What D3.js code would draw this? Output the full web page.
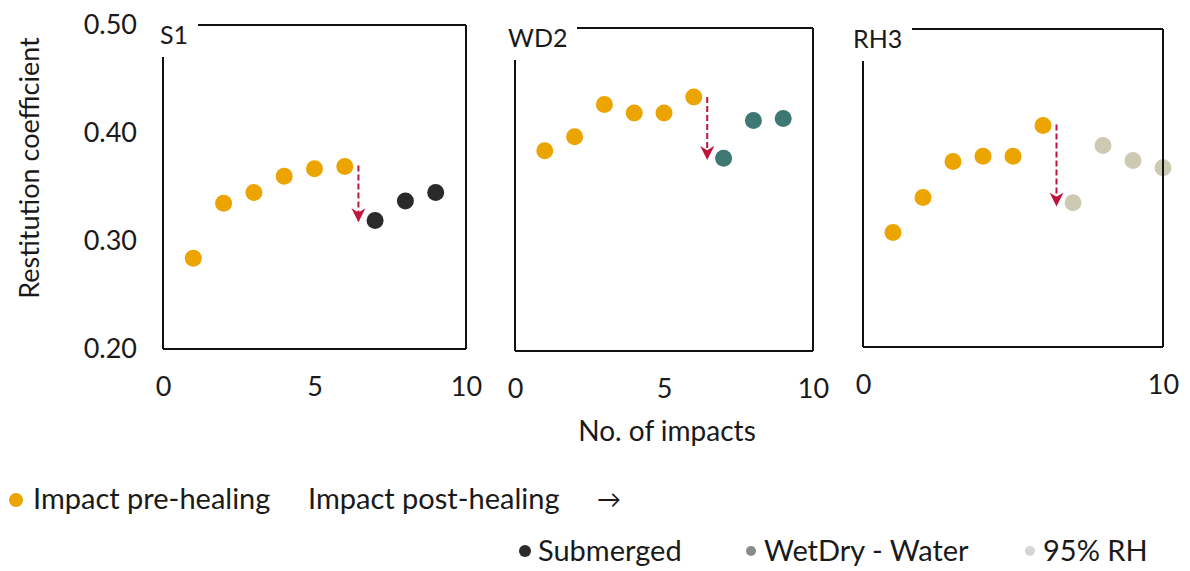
<!DOCTYPE html>
<html><head><meta charset="utf-8">
<script src="https://cdn.jsdelivr.net/npm/d3@7/dist/d3.min.js"></script>
<style>body{margin:0;background:#fff;} text{font-family:Lato,sans-serif;fill:#1a1a1a;}</style>
</head><body>
<svg id="c" width="1190" height="571"></svg>
<script>
// ---- data ----
const panelNames = ["S1", "WD2", "RH3"];
const preImpacts = [1, 2, 3, 4, 5, 6];
const s1Pre = [0.284, 0.335, 0.345, 0.360, 0.367, 0.369];
const wd2Pre = [0.386, 0.399, 0.429, 0.421, 0.421, 0.436];
const rh3Pre = [0.308, 0.341, 0.375, 0.380, 0.380, 0.409];
const s1PostImpacts = [7, 8, 9];
const s1Post = [0.319, 0.337, 0.345];
const wd2PostImpacts = [7, 8, 9];
const wd2Post = [0.379, 0.414, 0.416];
const rh3PostImpacts = [7, 8, 9, 10];
const rh3Post = [0.336, 0.390, 0.376, 0.369];
const arrowImpact = [6.45, 6.45, 6.45];
const arrowFrom = [0.370, 0.436, 0.410];
const arrowTo = [0.315, 0.375, 0.330];
const yTicks = [0.20, 0.30, 0.40, 0.50];
const xTicksByPanel = [[0, 5, 10], [0, 5, 10], [0, 10]];
const postSeriesNames = ["Submerged", "WetDry - Water", "95% RH"];
const preLabel = "Impact pre-healing";
const postLabel = "Impact post-healing";

// ---- layout ----
const colors = {pre: "#eba400", post: ["#2a2a2a", "#3d7873", "#cdcab4"], legendPost: ["#2a2a2a", "#8a8a8a", "#d6d6d6"], arrow: "#c0143c"};
const boxes = [
  {x0: 163, x1: 466, y0: 349, y1: 25, labelW: 35, lx: 160},
  {x0: 515, x1: 813, y0: 351, y1: 28, labelW: 62, lx: 508},
  {x0: 863, x1: 1163, y0: 347, y1: 29, labelW: 49, lx: 853}
];
const preData = [s1Pre, wd2Pre, rh3Pre];
const postImp = [s1PostImpacts, wd2PostImpacts, rh3PostImpacts];
const postData = [s1Post, wd2Post, rh3Post];

const svg = d3.select("#c");
svg.append("defs").append("marker").attr("id", "ah").attr("viewBox", "0 0 10 10")
  .attr("refX", 9).attr("refY", 5).attr("markerWidth", 7).attr("markerHeight", 7)
  .attr("markerUnits", "strokeWidth")
  .attr("orient", "auto").append("path").attr("d", "M0,0 L10,5 L0,10 L3,5 Z").attr("fill", colors.arrow);

boxes.forEach((b, i) => {
  const x = d3.scaleLinear().domain([0, 10]).range([b.x0, b.x1]);
  const y = d3.scaleLinear().domain([0.2, 0.5]).range([b.y0, b.y1]);
  const g = svg.append("g");
  // arrow
  g.append("line").attr("x1", x(arrowImpact[i])).attr("x2", x(arrowImpact[i]))
    .attr("y1", y(arrowFrom[i])).attr("y2", y(arrowTo[i]) - 4)
    .attr("stroke", colors.arrow).attr("stroke-width", 2).attr("stroke-dasharray", "6,3")
    .attr("marker-end", "url(#ah)");
  // points
  g.selectAll(".pre").data(preImpacts.map((d, k) => [d, preData[i][k]])).enter().append("circle")
    .attr("cx", d => x(d[0])).attr("cy", d => y(d[1])).attr("r", 8.5).attr("fill", colors.pre);
  g.selectAll(".post").data(postImp[i].map((d, k) => [d, postData[i][k]])).enter().append("circle")
    .attr("cx", d => x(d[0])).attr("cy", d => y(d[1])).attr("r", 8.5).attr("fill", colors.post[i]);
  // frame
  const fs = {stroke: "#111", w: 2};
  g.append("line").attr("x1", b.x0).attr("x2", b.x1).attr("y1", b.y0).attr("y2", b.y0).attr("stroke", fs.stroke).attr("stroke-width", fs.w);
  g.append("line").attr("x1", b.x1).attr("x2", b.x1).attr("y1", b.y0).attr("y2", b.y1).attr("stroke", fs.stroke).attr("stroke-width", fs.w);
  g.append("line").attr("x1", b.x0 + b.labelW).attr("x2", b.x1).attr("y1", b.y1).attr("y2", b.y1).attr("stroke", fs.stroke).attr("stroke-width", fs.w);
  g.append("line").attr("x1", b.x0).attr("x2", b.x0).attr("y1", b.y0).attr("y2", b.y1 + 32).attr("stroke", fs.stroke).attr("stroke-width", fs.w);
  // panel label
  g.append("text").attr("x", b.lx).attr("y", b.y1 + 19).attr("font-size", 25).text(panelNames[i]);
  // x ticks via axis
  const xa = d3.axisBottom(x).tickValues(xTicksByPanel[i]).tickSize(0).tickPadding(0).tickFormat(d3.format("d"));
  const xg = g.append("g").attr("transform", `translate(0,${b.y0 + 28})`).call(xa);
  xg.select(".domain").remove();
  xg.selectAll("text").attr("font-size", 27).attr("font-family", "Lato").attr("fill", "#1a1a1a");
  if (i === 0) {
    const ya = d3.axisLeft(y).tickValues(yTicks).tickSize(0).tickPadding(26).tickFormat(d3.format(".2f"));
    const yg = g.append("g").attr("transform", `translate(${b.x0},0)`).call(ya);
    yg.select(".domain").remove();
    yg.selectAll("text").attr("font-size", 27).attr("font-family", "Lato").attr("fill", "#1a1a1a");
  }
});

// axis titles
svg.append("text").attr("transform", "translate(39,168) rotate(-90)").attr("text-anchor", "middle")
  .attr("font-size", 27).text("Restitution coefficient");
svg.append("text").attr("x", 667).attr("y", 441).attr("text-anchor", "middle").attr("font-size", 28).text("No. of impacts");

// legend
svg.append("circle").attr("cx", 16).attr("cy", 500).attr("r", 7).attr("fill", colors.pre);
svg.append("text").attr("x", 33).attr("y", 509).attr("font-size", 29).text(preLabel);
svg.append("text").attr("x", 308).attr("y", 509).attr("font-size", 29).text(postLabel);
svg.append("text").attr("x", 597).attr("y", 508).attr("font-size", 24).attr("font-family", "DejaVu Sans").text("→");
const legX = [525, 751, 1030];
postSeriesNames.forEach((n, i) => {
  svg.append("circle").attr("cx", legX[i]).attr("cy", 551).attr("r", i === 0 ? 6 : 5).attr("fill", colors.legendPost[i]);
  svg.append("text").attr("x", legX[i] + 13).attr("y", 561).attr("font-size", 29).text(n);
});
</script>
</body></html>
